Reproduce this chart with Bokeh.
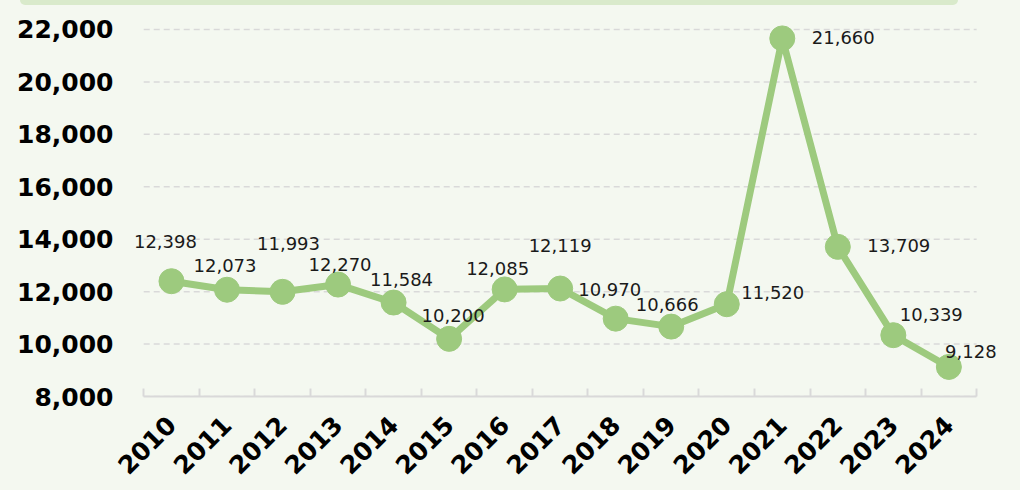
import math
from bokeh.plotting import figure
from bokeh.models import (ColumnDataSource, Range1d, FixedTicker, NumeralTickFormatter,
                          LabelSet, Div)
from bokeh.core.properties import value
from bokeh.layouts import column
from bokeh.embed import file_html
from bokeh.resources import INLINE

# ---- data ----
years = [2010, 2011, 2012, 2013, 2014, 2015, 2016, 2017, 2018, 2019, 2020, 2021, 2022, 2023, 2024]
values = [12398, 12073, 11993, 12270, 11584, 10200, 12085, 12119, 10970, 10666, 11520, 21660, 13709, 10339, 9128]
y_ticks = [8000, 10000, 12000, 14000, 16000, 18000, 20000, 22000]

# label offsets in screen pixels (style only)
label_dx = [-6, -2, 6, 2, 8, 4, -7, 0, -6, -4, 46, 61, 61, 38, 22]
label_dy = [40, 24, 48, 20, 23, 23, 21, 43, 29, 22, 12, 1, 1, 21, 15]

BG = "#f4f8f0"
GREEN = "#9dca7e"
GRID = "#d9d9d9"
FONT = "DejaVu Sans"

x_lo, x_hi = years[0] - 0.5, years[-1] + 0.5

src = ColumnDataSource(dict(
    x=years, y=values,
    label=[f"{v:,}" for v in values],
    dx=label_dx, dy=label_dy,
))
grid_src = ColumnDataSource(dict(x0=[x_lo] * len(y_ticks), x1=[x_hi] * len(y_ticks), y=y_ticks))

p = figure(width=1020, height=485, output_backend="svg", toolbar_location=None,
           x_range=Range1d(x_lo - 0.4, x_hi + 0.7),
           y_range=Range1d(8000, 22534),
           min_border_left=121, min_border_right=5, min_border_top=10, min_border_bottom=94,
           background_fill_color=BG, border_fill_color=BG, outline_line_color=None)

# dashed horizontal grid lines at the y ticks, limited to the axis extent
p.segment(x0="x0", x1="x1", y0="y", y1="y", source=grid_src,
          line_color=GRID, line_width=1.5, line_dash="6 4")

p.line("x", "y", source=src, line_width=7, line_color=GREEN)
p.scatter("x", "y", source=src, size=25, fill_color=GREEN, line_color=GREEN)

labels = LabelSet(x="x", y="y", text="label", x_offset="dx", y_offset="dy", source=src,
                  text_align="center", text_baseline="middle", text_font_size="18px",
                  text_font=value(FONT), text_color="#1a1a1a")
p.add_layout(labels)

# x axis
p.xaxis.bounds = (x_lo, x_hi)
p.xaxis.ticker = FixedTicker(ticks=years, minor_ticks=[y - 0.5 for y in years] + [x_hi])
p.xaxis.major_label_overrides = {y: str(y) for y in years}
p.xaxis.major_label_orientation = math.pi / 4
p.xaxis.major_label_text_font = FONT
p.xaxis.major_label_text_font_style = "bold"
p.xaxis.major_label_text_font_size = "25px"
p.xaxis.major_label_text_color = "#000000"
p.xaxis.major_label_standoff = 24
p.xaxis.axis_line_color = GRID
p.xaxis.axis_line_width = 2
p.xaxis.major_tick_in = 0
p.xaxis.major_tick_out = 0
p.xaxis.major_tick_line_color = None
p.xaxis.minor_tick_in = 8
p.xaxis.minor_tick_out = 0
p.xaxis.minor_tick_line_color = GRID
p.xaxis.minor_tick_line_width = 2

# y axis
p.yaxis.ticker = FixedTicker(ticks=y_ticks)
p.yaxis.formatter = NumeralTickFormatter(format="0,0")
p.yaxis.major_label_text_font = FONT
p.yaxis.major_label_text_font_style = "bold"
p.yaxis.major_label_text_font_size = "25px"
p.yaxis.major_label_text_color = "#000000"
p.yaxis.axis_line_color = None
p.yaxis.major_tick_line_color = None
p.yaxis.minor_tick_line_color = None
p.yaxis.major_tick_in = 0
p.yaxis.major_tick_out = 0
p.yaxis.major_label_standoff = 8

p.xgrid.grid_line_color = None
p.ygrid.grid_line_color = None

header = Div(text="", width=938, height=5, margin=(0, 0, 0, 20),
             styles={"background-color": "#d9eacb", "border-radius": "0 0 8px 8px"})

layout = column(header, p, spacing=0, styles={"background-color": BG})

open("out.html", "w").write(file_html(layout, INLINE))
